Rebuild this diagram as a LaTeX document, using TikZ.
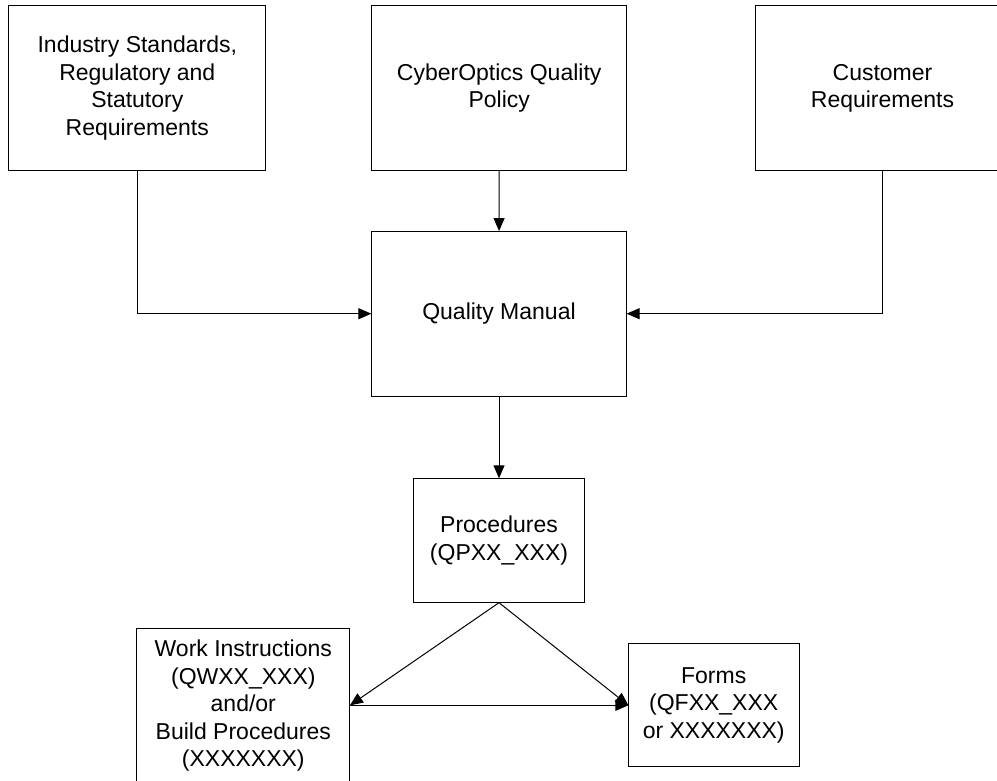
\documentclass[tikz,border=0pt]{standalone}
\usepackage{fontspec}
\setmainfont{Liberation Sans}
\usepackage{tikz}
\usetikzlibrary{calc,
	positioning,
	arrows.meta}

\begin{document}
\begin{tikzpicture}[x=1pt,y=-1pt,
		box/.style={draw,line width=1pt,inner sep=0pt,outer sep=0pt,align=center,font=\fontsize{23}{27.5}\selectfont},
		arr/.style={line width=1pt,-{Triangle[length=13pt,width=11pt]}}]
	\useasboundingbox (0,0) rectangle (997,780);
	\clip (0,0) rectangle (997,780);
	\node[box,minimum width=256.7pt,minimum height=165pt] (industry) at (137.3,88.2) {Industry Standards,\\Regulatory and\\Statutory\\Requirements};
	\node[box,minimum width=255pt,minimum height=165pt] (policy) at (499.2,88.2) {CyberOptics Quality\\Policy};
	\node[box,minimum width=255pt,minimum height=165pt] (customer) at (882.5,88.2) {Customer\\Requirements};
	\node[box,minimum width=255.2pt,minimum height=165.3pt] (manual) at (499,313.7) {Quality Manual};
	\node[box,minimum width=170.3pt,minimum height=124.4pt] (procedures) at (499,540.5) {Procedures\\(QPXX\_XXX)};
	\node[box,minimum width=213.3pt,minimum height=156pt] (instructions) at (243.3,706) {Work Instructions\\(QWXX\_XXX)\\and/or\\Build Procedures\\(XXXXXXX)};
	\node[box,minimum width=170.7pt,minimum height=122.7pt] (forms) at (713.7,705.3) {Forms\\(QFXX\_XXX\\or XXXXXXX)};
	\coordinate (wiport) at (instructions.east |- forms.west);
	\draw[arr] (industry.south) |- (manual.west);
	\draw[arr] (customer.south) |- (manual.east);
	\draw[arr] (policy) -- (manual);
	\draw[arr] (manual) -- (procedures);
	\draw[arr] (procedures.south) -- (wiport);
	\draw[arr] (procedures.south) -- (forms.west);
	\draw[arr] (wiport) -- (forms.west);
\end{tikzpicture}
\end{document}
